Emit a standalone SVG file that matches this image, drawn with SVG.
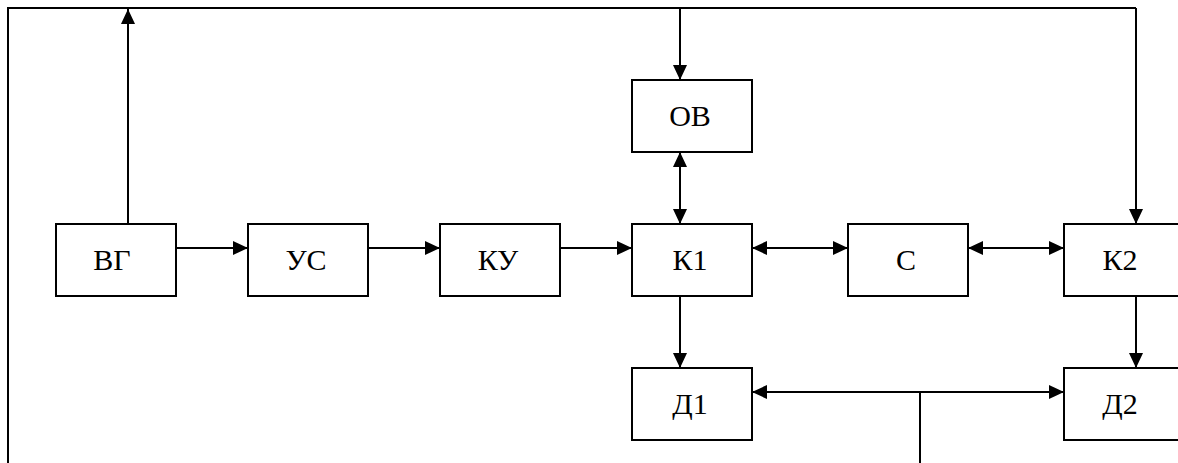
<svg xmlns="http://www.w3.org/2000/svg" width="1178" height="463" viewBox="0 0 1178 463">
  <style>
    .box { fill: #ffffff; stroke: #000000; stroke-width: 2; }
    .lbl { font-family: 'Liberation Serif', 'DejaVu Serif', serif; font-size: 30px; fill: #000000; text-anchor: middle; }
    .ln { fill: none; stroke: #000000; stroke-width: 2; }
  </style>
  <defs>
    <marker id="ah" viewBox="0 0 15 14" refX="15" refY="7" markerWidth="15" markerHeight="14" markerUnits="userSpaceOnUse" orient="auto-start-reverse">
      <path d="M0,0 L15,7 L0,14 Z" fill="#000000"/>
    </marker>
  </defs>

  <rect width="1178" height="463" fill="#ffffff"/>

  <!-- connectors -->
  <g id="connectors">
    <!-- outer frame: left rail and top bus -->
    <path class="ln" d="M8,463 V8 H1136"/>
    <!-- ВГ up to top bus -->
    <path class="ln" d="M128,224 V9" marker-end="url(#ah)"/>
    <!-- top bus down to ОВ -->
    <path class="ln" d="M680,8 V80" marker-end="url(#ah)"/>
    <!-- top bus down to К2 -->
    <path class="ln" d="M1136,8 V224" marker-end="url(#ah)"/>
    <!-- main chain -->
    <path class="ln" d="M176,248 H248" marker-end="url(#ah)"/>
    <path class="ln" d="M368,248 H440" marker-end="url(#ah)"/>
    <path class="ln" d="M560,248 H632" marker-end="url(#ah)"/>
    <path class="ln" d="M752,248 H848" marker-start="url(#ah)" marker-end="url(#ah)"/>
    <path class="ln" d="M968,248 H1064" marker-start="url(#ah)" marker-end="url(#ah)"/>
    <!-- ОВ <-> К1 -->
    <path class="ln" d="M680,152 V224" marker-start="url(#ah)" marker-end="url(#ah)"/>
    <!-- К1 -> Д1, К2 -> Д2 -->
    <path class="ln" d="M680,296 V368" marker-end="url(#ah)"/>
    <path class="ln" d="M1136,296 V368" marker-end="url(#ah)"/>
    <!-- Д1 <-> Д2 with feed from below -->
    <path class="ln" d="M752,392 H1064" marker-start="url(#ah)" marker-end="url(#ah)"/>
    <path class="ln" d="M920,392 V463"/>
  </g>

  <g id="node-vg">
    <rect class="box" x="56" y="224" width="120" height="72"/>
    <text class="lbl" x="112" y="270">ВГ</text>
  </g>
  <g id="node-us">
    <rect class="box" x="248" y="224" width="120" height="72"/>
    <text class="lbl" x="306" y="270">УС</text>
  </g>
  <g id="node-ku">
    <rect class="box" x="440" y="224" width="120" height="72"/>
    <text class="lbl" x="498" y="270">КУ</text>
  </g>
  <g id="node-k1">
    <rect class="box" x="632" y="224" width="120" height="72"/>
    <text class="lbl" x="690" y="270">К1</text>
  </g>
  <g id="node-c">
    <rect class="box" x="848" y="224" width="120" height="72"/>
    <text class="lbl" x="906" y="270">С</text>
  </g>
  <g id="node-k2">
    <rect class="box" x="1064" y="224" width="120" height="72"/>
    <text class="lbl" x="1120" y="270">К2</text>
  </g>
  <g id="node-ov">
    <rect class="box" x="632" y="80" width="120" height="72"/>
    <text class="lbl" x="690" y="126">ОВ</text>
  </g>
  <g id="node-d1">
    <rect class="box" x="632" y="368" width="120" height="72"/>
    <text class="lbl" x="690" y="414">Д1</text>
  </g>
  <g id="node-d2">
    <rect class="box" x="1064" y="368" width="120" height="72"/>
    <text class="lbl" x="1120" y="414">Д2</text>
  </g>
</svg>
